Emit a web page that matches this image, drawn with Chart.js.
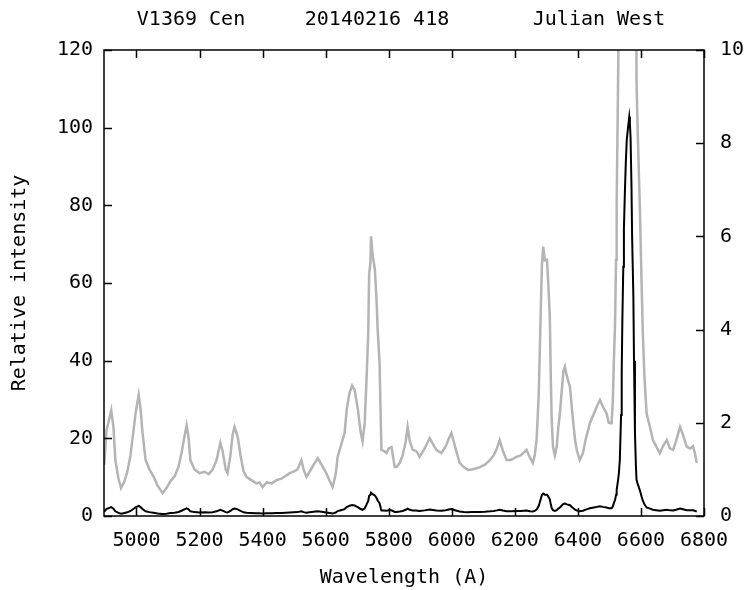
<!DOCTYPE html>
<html>
<head>
<meta charset="utf-8">
<script src="https://cdn.jsdelivr.net/npm/chart.js@4/dist/chart.umd.min.js"></script>
<style>
  html, body { margin: 0; padding: 0; background: #fff; }
  #wrap { width: 753px; height: 590px; }
</style>
</head>
<body>
<div id="wrap"><canvas id="myChart" width="753" height="590"></canvas></div>
<script>
// header texts above the plot
var headerText = ['V1369 Cen', '20140216 418', 'Julian West'];

// spectrum: wavelength (A) and relative intensity
var wavelength = [
  4898, 4905, 4911, 4920, 4927, 4933, 4943, 4951, 4962, 4971, 4981, 4990, 4997,
  5007, 5013, 5019, 5029, 5041, 5054, 5067, 5083, 5095, 5108, 5121, 5133, 5143,
  5152, 5159, 5165, 5171, 5184, 5200, 5216, 5229, 5241, 5254, 5266, 5273, 5283,
  5289, 5298, 5305, 5311, 5321, 5330, 5340, 5349, 5362, 5380, 5390, 5400, 5413,
  5429, 5444, 5460, 5473, 5486, 5498, 5511, 5523, 5530, 5539, 5549, 5562, 5575,
  5587, 5602, 5613, 5622, 5632, 5638, 5648, 5660, 5667, 5676, 5684, 5692, 5702,
  5711, 5717, 5724, 5730, 5735, 5738, 5742, 5744, 5749, 5756, 5761, 5765, 5771,
  5775, 5777, 5784, 5793, 5800, 5809, 5819, 5825, 5835, 5844, 5854, 5860, 5867,
  5876, 5886, 5892, 5898, 5914, 5930, 5940, 5951, 5967, 5981, 5990, 5999, 6010,
  6025, 6038, 6051, 6063, 6076, 6089, 6105, 6121, 6133, 6143, 6152, 6162, 6174,
  6187, 6205, 6219, 6237, 6248, 6257, 6263, 6269, 6273, 6276, 6279, 6283, 6286,
  6290, 6295, 6302, 6306, 6311, 6314, 6317, 6321, 6327, 6333, 6338, 6343, 6349,
  6354, 6359, 6365, 6375, 6381, 6391, 6397, 6406, 6416, 6425, 6438, 6451, 6460,
  6470, 6479, 6491, 6498, 6507, 6511, 6514, 6518, 6521, 6523, 6527, 6530, 6533,
  6537, 6539, 6541, 6544, 6546, 6549, 6552, 6555, 6559, 6563, 6565, 6567, 6570,
  6572, 6576, 6578, 6581, 6584, 6586, 6590, 6597, 6602, 6606, 6611, 6618, 6629,
  6638, 6648, 6660, 6670, 6682, 6692, 6702, 6711, 6724, 6733, 6745, 6756, 6765,
  6771, 6777
];
var intensity = [
  1.1, 1.85, 2.0, 2.27, 1.9, 1.2, 0.8, 0.6, 0.75, 0.95, 1.3, 1.8, 2.2,
  2.6, 2.3, 1.8, 1.2, 1.0, 0.85, 0.65, 0.49, 0.6, 0.75, 0.85, 1.05, 1.35,
  1.7, 1.95, 1.7, 1.2, 1.0, 0.92, 0.95, 0.9, 0.99, 1.2, 1.57, 1.4, 1.0,
  0.92, 1.3, 1.75, 1.91, 1.7, 1.3, 0.95, 0.84, 0.78, 0.7, 0.72, 0.62, 0.72,
  0.7, 0.77, 0.8, 0.86, 0.92, 0.95, 1.0, 1.2, 1.0, 0.84, 0.95, 1.1, 1.24,
  1.1, 0.92, 0.75, 0.62, 0.9, 1.27, 1.5, 1.78, 2.3, 2.65, 2.8, 2.7, 2.3,
  1.8, 1.6, 2.0, 3.0, 3.9, 5.2, 5.43, 6.0, 5.6, 5.3, 4.7, 4.0, 3.28,
  2.0, 1.42, 1.4, 1.35, 1.45, 1.48, 1.05, 1.05, 1.14, 1.3, 1.6, 1.91, 1.6,
  1.42, 1.4, 1.35, 1.27, 1.45, 1.67, 1.55, 1.42, 1.35, 1.5, 1.65, 1.78, 1.5,
  1.14, 1.05, 0.99, 1.0, 1.02, 1.05, 1.1, 1.2, 1.3, 1.45, 1.63, 1.4, 1.2,
  1.2, 1.27, 1.3, 1.42, 1.25, 1.14, 1.3, 1.63, 2.2, 2.64, 3.5, 4.6, 5.4,
  5.78, 5.49, 5.5, 5.0, 4.28, 3.0, 2.06, 1.49, 1.3, 1.5, 1.9, 2.2, 2.7,
  3.1, 3.2, 3.0, 2.77, 2.3, 1.63, 1.4, 1.2, 1.35, 1.65, 1.99, 2.2, 2.35,
  2.49, 2.35, 2.2, 2.0, 1.99, 2.5, 3.3, 4.14, 5.5, 6.7, 9, 11, 14.4,
  26, 36.8, 50, 64.2, 74, 83.2, 91, 96.8, 100, 102.8, 101, 97.7, 85,
  72, 56.5, 40, 21.4, 13, 9.3, 8.2, 6.5, 5.0, 3.92, 3.0, 2.2, 1.9,
  1.63, 1.5, 1.35, 1.5, 1.63, 1.45, 1.42, 1.6, 1.91, 1.75, 1.49, 1.45, 1.5,
  1.35, 1.14
];

// tick labels
var xTicks = [5000, 5200, 5400, 5600, 5800, 6000, 6200, 6400, 6600, 6800];
var yTicks = [0, 20, 40, 60, 80, 100, 120];
var y2Ticks = [0, 2, 4, 6, 8, 10];

var points = wavelength.map(function (w, i) { return { x: w, y: intensity[i] }; });

var FONT = { family: 'DejaVu Sans Mono', size: 20 };

function setTicks(list) {
  return function (scale) {
    scale.ticks = list.map(function (v) { return { value: v }; });
  };
}

// frame round the plot and gnuplot style inward tick marks
var framePlugin = {
  id: 'frame',
  afterDraw: function (chart) {
    var ctx = chart.ctx;
    var a = chart.chartArea;
    var sx = chart.scales.x, sy = chart.scales.y, sy2 = chart.scales.y2;
    var len = 8;
    ctx.save();
    ctx.strokeStyle = '#000';
    ctx.lineWidth = 1.5;
    ctx.strokeRect(a.left, a.top, a.right - a.left, a.bottom - a.top);
    ctx.beginPath();
    xTicks.forEach(function (v) {
      var px = Math.round(sx.getPixelForValue(v)) + 0.5;
      ctx.moveTo(px, a.bottom); ctx.lineTo(px, a.bottom - len);
      ctx.moveTo(px, a.top); ctx.lineTo(px, a.top + len);
    });
    yTicks.forEach(function (v) {
      var py = Math.round(sy.getPixelForValue(v)) + 0.5;
      ctx.moveTo(a.left, py); ctx.lineTo(a.left + len, py);
    });
    y2Ticks.forEach(function (v) {
      var py = Math.round(sy2.getPixelForValue(v)) + 0.5;
      ctx.moveTo(a.right, py); ctx.lineTo(a.right - len, py);
    });
    ctx.stroke();

    ctx.fillStyle = '#000';
    ctx.font = FONT.size + 'px ' + FONT.family;
    ctx.textAlign = 'center';
    ctx.textBaseline = 'middle';
    var cx = [191, 377, 599];
    headerText.forEach(function (t, i) { ctx.fillText(t, cx[i], 20); });
    ctx.restore();
  }
};

var ctx = document.getElementById('myChart').getContext('2d');
var chart = new Chart(ctx, {
  type: 'line',
  data: {
    datasets: [{
      data: points,
      yAxisID: 'y',
      borderColor: '#000',
      borderWidth: 2,
      pointRadius: 0,
      tension: 0
    }, {
      data: points,
      yAxisID: 'y2',
      borderColor: '#b4b4b4',
      borderWidth: 2.5,
      pointRadius: 0,
      tension: 0
    }]
  },
  options: {
    responsive: false,
    animation: false,
    layout: { padding: { top: 50, left: 0, right: 0, bottom: 0 } },
    plugins: { legend: { display: false }, tooltip: { enabled: false } },
    scales: {
      x: {
        type: 'linear',
        min: 4897,
        max: 6800,
        afterBuildTicks: setTicks(xTicks),
        afterFit: function (s) { s.height = 74; },
        grid: { display: false, drawTicks: false },
        border: { display: false },
        ticks: {
          color: '#000', font: FONT, padding: 13, maxRotation: 0,
          autoSkip: false,
          callback: function (v) { return String(v); }
        },
        title: {
          display: true, text: 'Wavelength (A)', color: '#000', font: FONT,
          padding: { top: 0, bottom: 0 }
        }
      },
      y: {
        position: 'left',
        min: 0,
        max: 120,
        afterBuildTicks: setTicks(yTicks),
        afterFit: function (s) { s.width = 104; },
        grid: { display: false, drawTicks: false },
        border: { display: false },
        ticks: { color: '#000', font: FONT, padding: 11 },
        title: {
          display: true, text: 'Relative intensity', color: '#000', font: FONT,
          padding: { top: 8, bottom: 0 }
        }
      },
      y2: {
        position: 'right',
        min: 0,
        max: 10,
        afterBuildTicks: setTicks(y2Ticks),
        afterFit: function (s) { s.width = 49; },
        grid: { display: false, drawTicks: false },
        border: { display: false },
        ticks: { color: '#000', font: FONT, padding: 16 }
      }
    }
  },
  plugins: [framePlugin]
});
</script>
</body>
</html>
